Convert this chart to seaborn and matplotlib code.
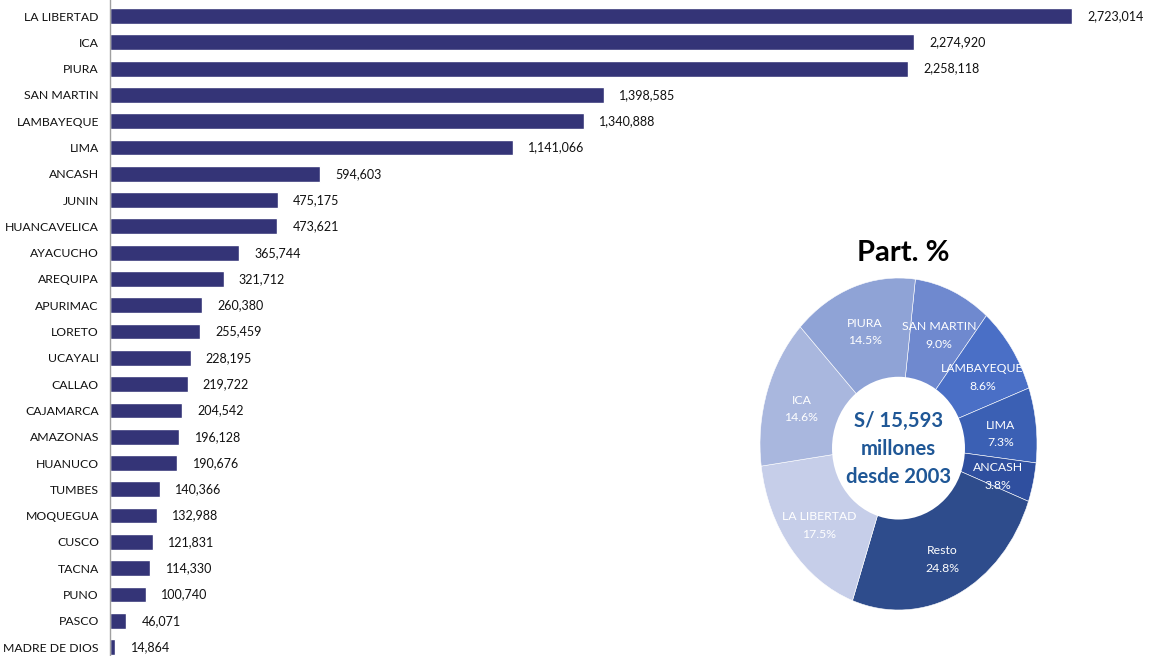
import matplotlib
matplotlib.use("Agg")
import matplotlib.pyplot as plt
from matplotlib.patches import Ellipse
import seaborn as sns
import pandas as pd

# monto transferido por region (miles de S/)
regiones = ["LA LIBERTAD", "ICA", "PIURA", "SAN MARTIN", "LAMBAYEQUE", "LIMA", "ANCASH",
            "JUNIN", "HUANCAVELICA", "AYACUCHO", "AREQUIPA", "APURIMAC", "LORETO",
            "UCAYALI", "CALLAO", "CAJAMARCA", "AMAZONAS", "HUANUCO", "TUMBES",
            "MOQUEGUA", "CUSCO", "TACNA", "PUNO", "PASCO", "MADRE DE DIOS"]
montos = [2723014, 2274920, 2258118, 1398585, 1340888, 1141066, 594603,
          475175, 473621, 365744, 321712, 260380, 255459,
          228195, 219722, 204542, 196128, 190676, 140366,
          132988, 121831, 114330, 100740, 46071, 14864]

# participacion (donut), en orden horario desde arriba
part_nombres = ["SAN MARTIN", "LAMBAYEQUE", "LIMA", "ANCASH", "Resto", "LA LIBERTAD", "ICA", "PIURA"]
part_pct = [9.0, 8.6, 7.3, 3.8, 24.8, 17.5, 14.6, 14.5]
part_colores = ["#6f89cf", "#4a6fc6", "#3b60b4", "#2f4f9f", "#2e4c8c", "#c6cee9", "#a9b7de", "#8fa3d6"]

sns.set_style("white")
plt.rcParams["font.family"] = ["Lato", "DejaVu Sans"]

df = pd.DataFrame({"region": regiones, "monto": montos})

fig = plt.figure(figsize=(11.5, 6.56), dpi=100)
ax = fig.add_axes([110 / 1150, 0, 1040 / 1150, 1])
sns.barplot(data=df, x="monto", y="region", orient="h", color="#343477",
            width=0.6, saturation=1, ax=ax)
ax.set_xlim(0, 2.944e6)
ax.set_ylim(24.34, -0.61)
ax.bar_label(ax.containers[0], labels=[f"{v:,}" for v in montos], padding=11,
             fontsize=9, color="#111111")
ax.set_xlabel("")
ax.set_ylabel("")
ax.set_xticks([])
ax.tick_params(axis="y", length=0, pad=8, labelsize=8.8, labelcolor="#111111")
for s in ["top", "right", "bottom"]:
    ax.spines[s].set_visible(False)
ax.spines["left"].set_color("#a0a0a0")
ax.spines["left"].set_linewidth(1)

# donut
pax = fig.add_axes([760 / 1150, 46 / 656, 277 / 1150, 332 / 656])
etiquetas = [f"{n}\n{p:.1f}%" for n, p in zip(part_nombres, part_pct)]
_, textos = pax.pie(part_pct, colors=part_colores, startangle=83, counterclock=False,
                    labels=etiquetas, labeldistance=0.74,
                    wedgeprops=dict(width=0.6, edgecolor="white", linewidth=0.4),
                    textprops=dict(color="white", fontsize=8.8, ha="center", va="center",
                                   linespacing=1.75))
for t in textos:
    x, y = t.get_position()
    t.set_position((x, y - 0.025))
pax.add_patch(Ellipse((0, -0.025), 0.96, 0.86, facecolor="white", edgecolor="none", zorder=5))
pax.set_xlim(-1, 1)
pax.set_ylim(-1, 1)
pax.set_aspect("auto")
pax.text(0, -0.03, "S/ 15,593\nmillones\ndesde 2003", ha="center", va="center",
         fontsize=14.6, fontweight="bold", color="#1f5796", linespacing=1.5, zorder=6)

fig.text(903 / 1150, 1 - 253 / 656, "Part. %", ha="center", va="center",
         fontsize=21, fontweight="bold", color="black")

fig.savefig("out.png", dpi=100)
